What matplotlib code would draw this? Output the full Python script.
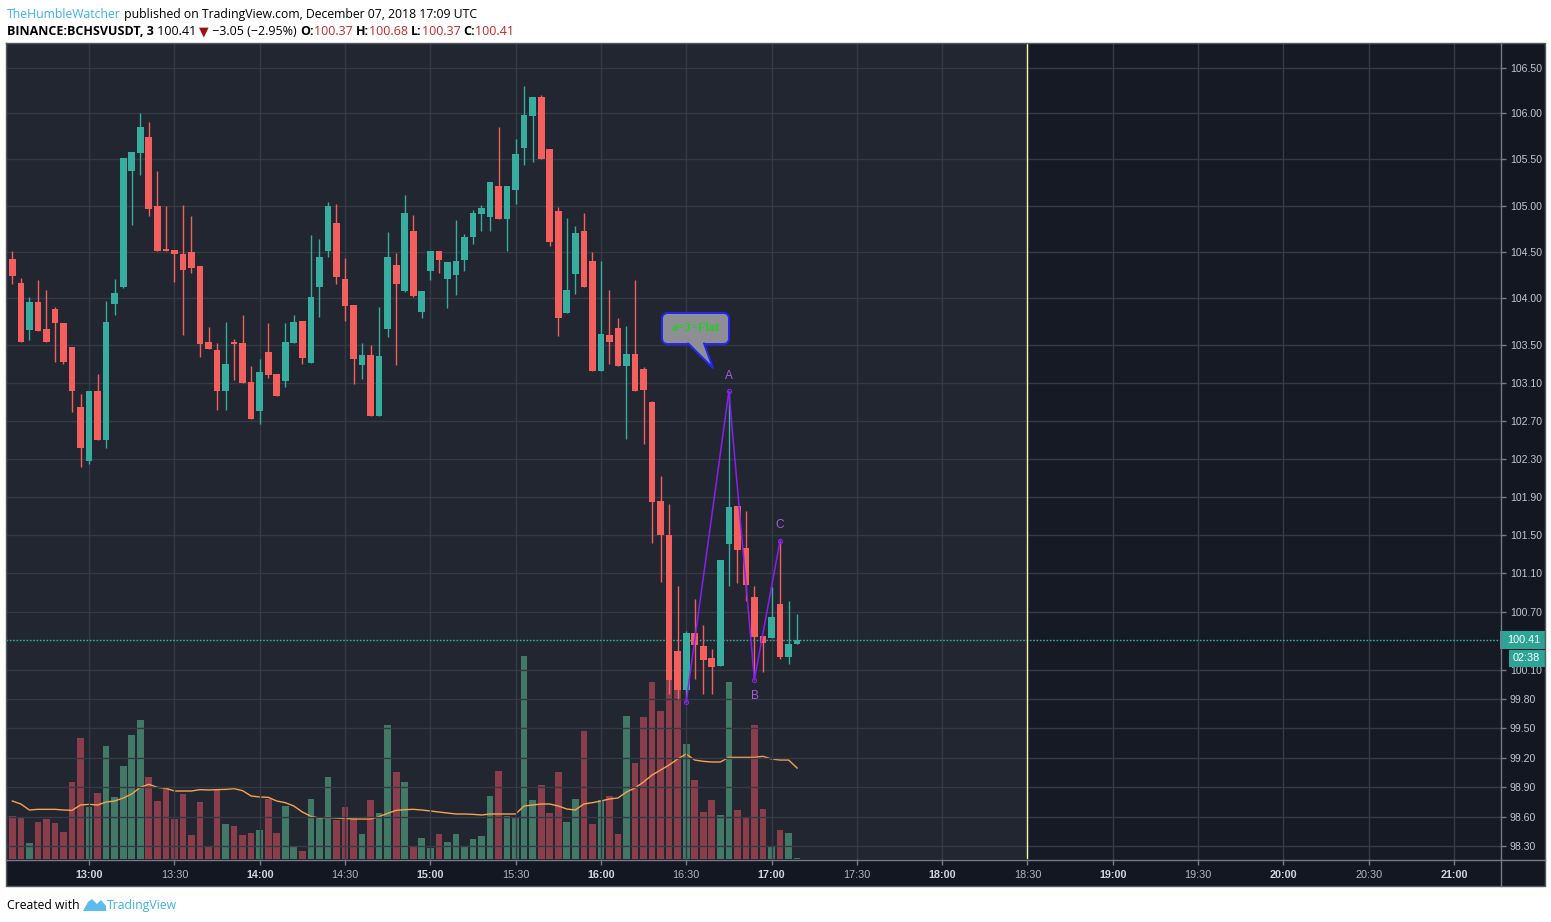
import matplotlib.pyplot as plt
import numpy as np
from matplotlib.patches import FancyBboxPatch, Polygon, Rectangle

W, H = 1551, 922

# BINANCE:BCHSVUSDT, 3 minute bars, first bar 12:33 UTC
start_min = 12 * 60 + 33
bar_min = 3

opens = [104.42, 104.17, 103.66, 103.96, 103.67, 103.89, 103.74, 103.48, 102.84, 102.27,
         103.01, 102.50, 103.94, 104.12, 105.375, 105.57, 105.74, 104.99, 104.53, 104.525,
         104.48, 104.50, 104.35, 103.54, 103.45, 103.01, 103.54, 103.52, 103.11, 102.80,
         103.43, 103.19, 103.12, 103.52, 103.76, 103.31, 104.12, 104.51, 104.81, 104.21,
         103.925, 103.29, 103.40, 102.75, 103.67, 104.36, 104.08, 104.73, 103.86, 104.29,
         104.51, 104.21, 104.25, 104.41, 104.66, 104.91, 104.88, 105.21, 104.85, 105.17,
         105.62, 105.97, 106.18, 105.61, 104.94, 103.84, 104.26, 104.73, 104.405, 103.23,
         103.61, 103.685, 103.275, 103.41, 103.25, 102.90, 101.85, 101.50, 100.29, 99.89,
         100.48, 100.35, 100.22, 100.14, 101.40, 101.80, 101.36, 100.85, 100.45, 100.43,
         100.78, 100.23, 100.37]
highs = [104.51, 104.22, 104.02, 104.20, 104.09, 103.91, 103.74, 103.48, 102.98, 103.01,
         103.19, 103.97, 104.21, 105.51, 105.575, 106.00, 105.91, 105.37, 104.99, 104.525,
         105.01, 104.89, 104.35, 103.69, 103.52, 103.75, 103.57, 103.82, 103.28, 103.35,
         103.74, 103.19, 103.74, 103.82, 103.76, 104.68, 104.64, 105.04, 105.02, 104.43,
         103.925, 103.52, 103.50, 103.91, 104.71, 104.49, 105.11, 104.90, 104.075, 104.51,
         104.51, 104.39, 104.84, 104.69, 104.95, 105.01, 105.25, 105.85, 105.21, 105.725,
         106.30, 106.18, 106.20, 105.61, 104.98, 104.87, 104.78, 104.92, 104.50, 104.405,
         104.09, 103.79, 103.71, 104.20, 103.27, 102.91, 102.12, 101.82, 100.97, 100.50,
         100.83, 100.56, 100.31, 101.24, 103.01, 101.80, 101.75, 100.97, 100.45, 100.96,
         101.44, 100.81, 100.68]
lows = [104.16, 103.54, 103.56, 103.65, 103.53, 103.32, 103.30, 102.79, 102.21, 102.24,
        102.50, 102.41, 103.82, 104.11, 104.79, 105.33, 104.89, 104.51, 104.51, 104.175,
        103.61, 104.27, 103.38, 103.46, 102.81, 102.81, 103.13, 103.10, 102.72, 102.66,
        103.15, 102.96, 103.06, 103.52, 103.30, 103.31, 103.80, 104.45, 104.15, 103.76,
        103.09, 103.14, 102.75, 102.75, 103.59, 103.29, 104.07, 104.02, 103.79, 104.20,
        104.27, 103.90, 104.04, 104.29, 104.58, 104.72, 104.72, 104.85, 104.51, 105.02,
        105.44, 105.47, 105.50, 104.56, 103.60, 103.84, 104.05, 104.125, 103.225, 103.23,
        103.30, 103.275, 102.51, 103.01, 102.45, 101.42, 101.01, 99.85, 99.80, 99.77,
        100.01, 99.85, 99.85, 100.14, 100.97, 101.00, 100.81, 100.00, 100.08, 100.43,
        100.21, 100.16, 100.37]
closes = [104.24, 103.54, 103.96, 103.65, 103.53, 103.74, 103.32, 103.01, 102.41, 103.01,
          102.50, 103.75, 104.06, 105.51, 105.575, 105.85, 104.96, 104.51, 104.51, 104.475,
          104.30, 104.33, 103.51, 103.46, 103.01, 103.30, 103.51, 103.10, 102.72, 103.22,
          103.18, 102.96, 103.53, 103.75, 103.37, 104.02, 104.44, 105.00, 104.23, 103.92,
          103.35, 103.40, 102.75, 103.39, 104.45, 104.16, 104.92, 104.03, 104.075, 104.51,
          104.41, 104.39, 104.40, 104.66, 104.92, 104.975, 105.25, 104.85, 105.21, 105.56,
          105.98, 106.18, 105.50, 104.605, 103.79, 104.09, 104.70, 104.125, 103.225, 103.62,
          103.53, 103.275, 103.41, 103.01, 103.03, 101.84, 101.50, 100.00, 99.89, 100.48,
          100.36, 100.20, 100.13, 101.24, 101.79, 101.34, 100.98, 100.44, 100.38, 100.65,
          100.23, 100.37, 100.41]
volumes = [129, 123, 48, 111, 120, 108, 81, 231, 363, 156,
           198, 339, 186, 279, 372, 417, 246, 174, 213, 120,
           195, 72, 171, 36, 210, 105, 99, 72, 78, 87,
           180, 78, 159, 39, 24, 180, 123, 246, 117, 156,
           123, 75, 177, 138, 402, 261, 231, 36, 63, 33,
           75, 51, 75, 39, 60, 69, 189, 264, 129, 126,
           609, 177, 222, 138, 261, 111, 180, 384, 105, 177,
           189, 75, 429, 288, 426, 531, 444, 564, 582, 345,
           237, 141, 177, 132, 531, 147, 123, 402, 150, 39,
           87, 78, 3]
vol_ma = [174, 165, 147, 149, 149, 149, 147, 146, 162, 164,
          162, 171, 174, 183, 195, 215, 224, 215, 212, 204,
          204, 204, 208, 207, 208, 209, 211, 205, 189, 186,
          185, 174, 169, 159, 141, 128, 123, 125, 123, 122,
          120, 120, 120, 127, 137, 146, 148, 149, 147, 144,
          141, 138, 135, 135, 134, 132, 135, 135, 135, 135,
          159, 162, 165, 165, 159, 150, 147, 165, 169, 174,
          180, 183, 201, 213, 231, 252, 267, 282, 300, 315,
          297, 293, 291, 291, 305, 305, 305, 305, 308, 300,
          297, 297, 273]

# A-B-C swing marked on the chart (bar index, which extreme)
swing_bars = [79, 84, 87, 90]
swing_names = ['', 'A', 'B', 'C']

price_ticks = [106.50, 106.00, 105.50, 105.00, 104.50, 104.00, 103.50, 103.10, 102.70, 102.30,
               101.90, 101.50, 101.10, 100.70, 100.10, 99.80, 99.50, 99.20, 98.90, 98.60, 98.30]
time_labels = ['13:00', '13:30', '14:00', '14:30', '15:00', '15:30', '16:00', '16:30', '17:00',
               '17:30', '18:00', '18:30', '19:00', '19:30', '20:00', '20:30', '21:00']
session_end = '18:30'
timer_text = '02:38'

GREEN = '#36ad9f'
RED = '#f25f5c'
GREEN_V = '#417866'
RED_V = '#8a3e4c'
BG = '#222630'
BG_DARK = '#161a25'
AXIS_BG = '#131722'
GRID = '#363a45'
TXT = '#b2b5be'


def to_idx(hhmm):
    h, m = hhmm.split(':')
    return (int(h) * 60 + int(m) - start_min) / bar_min


o = np.array(opens)
hi = np.array(highs)
lo = np.array(lows)
c = np.array(closes)
idx = np.arange(len(o))
up = c >= o

fig = plt.figure(figsize=(W / 100, H / 100), dpi=100, facecolor='white')

# background layer in pixel coordinates
bg = fig.add_axes([0, 0, 1, 1], zorder=-5)
bg.set_xlim(0, W)
bg.set_ylim(H, 0)
bg.axis('off')
bg.add_patch(Rectangle((6, 43), 1539, 843, facecolor=AXIS_BG, edgecolor='none'))

pos = [6 / W, 1 - 859 / H, 1494 / W, 815 / H]
xlim = (-0.74, 174.4)

# volume pane (drawn underneath)
av = fig.add_axes(pos, zorder=1)
av.set_facecolor(BG)
av.set_xlim(*xlim)
av.set_ylim(0, 2445)
av.axvspan(to_idx(session_end), xlim[1], color=BG_DARK, lw=0, zorder=0)
av.bar(idx, volumes, width=0.78, color=np.where(up, GREEN_V, RED_V), linewidth=0, zorder=2)
av.plot(idx, vol_ma, color='#f7a350', lw=1, zorder=3)
av.xaxis.set_visible(False)
av.yaxis.set_visible(False)
for s in av.spines.values():
    s.set_visible(False)

# price pane
ax = fig.add_axes(pos, zorder=2)
ax.patch.set_visible(False)
ax.set_yscale('log')
ax.set_ylim(98.17, 106.76)
ax.set_xlim(*xlim)
ax.set_axisbelow(True)
ax.grid(True, color=GRID, lw=1)
ax.minorticks_off()

cols = np.where(up, GREEN, RED)
ax.vlines(idx, lo, hi, colors=cols, lw=1, zorder=3)
body = np.maximum(np.abs(c - o), 0.012)
ax.bar(idx, body, bottom=np.minimum(o, c), width=0.78, color=cols, linewidth=0, zorder=4)

ax.axhline(c[-1], color='#2fb3a5', lw=1, linestyle=(0, (1.2, 1.2)), zorder=2)
ax.axvline(to_idx(session_end), color='#f4f4b0', lw=1, zorder=2)

# swing pattern
sx = swing_bars
sy = [lo[79], hi[84], lo[87], hi[90]]
ax.plot(sx, sy, color='#8a1ef0', lw=1.1, zorder=6)
ax.plot(sx, sy, 'o', ms=3, mfc='none', mec='#8a1ef0', mew=0.8, zorder=6)
for k, name in enumerate(swing_names):
    if not name:
        continue
    dy = -12 if name == 'B' else 11
    ax.annotate(name, (sx[k], sy[k]), xytext=(0, dy), textcoords='offset points',
                ha='center', va='center', color='#a45fe0', fontsize=8.5,
                family='Liberation Sans', zorder=7)

ax.yaxis.tick_right()
ax.set_yticks(price_ticks)
ax.set_yticklabels([f'{p:.2f}' for p in price_ticks])
ax.set_xticks([to_idx(t) for t in time_labels])
ax.set_xticklabels(time_labels)
ax.tick_params(axis='y', length=4, width=1, color='#787b86', pad=3, labelsize=7.6,
               labelcolor='#c3c6ce')
ax.tick_params(axis='x', length=4, width=1, color='#787b86', pad=4, labelsize=7.8,
               labelcolor=TXT)
for lab in ax.get_xticklabels() + ax.get_yticklabels():
    lab.set_family('Liberation Sans')
for lab in ax.get_xticklabels():
    if lab.get_text().endswith(':00'):
        lab.set_fontweight('bold')
        lab.set_color('#d1d4dc')
for s in ax.spines.values():
    s.set_visible(False)

# overlay in pixel coordinates
ov = fig.add_axes([0, 0, 1, 1], zorder=10)
ov.set_xlim(0, W)
ov.set_ylim(H, 0)
ov.axis('off')
ov.patch.set_visible(False)

ov.plot([6, 1545, 1545, 6, 6], [43.5, 43.5, 885.5, 885.5, 43.5], color='#55585f', lw=1)
ov.plot([6, 1545], [859.5, 859.5], color='#787b86', lw=1)
ov.plot([1500.5, 1500.5], [43.5, 885.5], color='#787b86', lw=1)

# last price and countdown labels
py = H - ax.transData.transform((0, c[-1]))[1]
ov.add_patch(Rectangle((1500, py - 9), 45, 18, facecolor='#2ca597', edgecolor='none'))
ov.text(1540, py, f'{c[-1]:.2f}', ha='right', va='center', color='white', fontsize=7.8,
        family='Liberation Sans')
ov.add_patch(Rectangle((1509, py + 10), 36, 17, facecolor='#2ca597', edgecolor='none'))
ov.text(1540, py + 18.5, timer_text, ha='right', va='center', color='white', fontsize=7.8,
        family='Liberation Sans')

# callout bubble
ov.add_patch(FancyBboxPatch((662, 313), 67, 31, boxstyle='round,pad=0,rounding_size=6',
                            facecolor='#8e8f95', edgecolor='#2424ff', lw=1.4, zorder=3))
ov.add_patch(Polygon([(688, 342), (713, 368), (704, 342)], closed=True,
                     facecolor='#8e8f95', edgecolor='none', zorder=4))
ov.plot([688, 713, 704], [343.5, 368, 343.5], color='#2424ff', lw=1.4, zorder=5)
ov.text(695.5, 328, 'a=3=Flat', ha='center', va='center', color='#1fd11f', fontsize=9,
        fontweight='bold', family='Liberation Serif', zorder=6)

# header
hfam = ['Open Sans', 'DejaVu Sans']
HS = 8.8
HS2 = 9.0


def chain(prev, s, color='black', weight='normal', size=HS):
    return ov.annotate(s, xy=(1, 0), xycoords=prev, va='bottom', ha='left', color=color,
                       fontsize=size, fontweight=weight, family=hfam)


t = ov.text(7, 18, 'TheHumbleWatcher', color='#3bb3e4', fontsize=HS, family=hfam,
            va='baseline')
chain(t, ' published on TradingView.com, December 07, 2018 17:09 UTC')

RED_T = '#c0282d'
t = ov.text(7, 35, 'BINANCE:BCHSVUSDT, 3', color='black', fontsize=HS2, fontweight='bold',
            family=hfam, va='baseline')
t = chain(t, ' 100.41 ', size=HS2)
t = chain(t, '\u25bc', color='#a01010', size=HS2)
t = chain(t, ' \u22123.05 (\u22122.95%) ', size=HS2)
for lab, val in [('O:', opens[-1]), ('H:', highs[-1]), ('L:', lows[-1]), ('C:', closes[-1])]:
    t = chain(t, lab, weight='bold', size=HS2)
    t = chain(t, f'{val:.2f} ', color=RED_T, size=HS2)

# footer
t = ov.text(7, 909, 'Created with', color='black', fontsize=HS, family=hfam, va='baseline')
ov.add_patch(Polygon([(83, 911), (88, 902), (92, 899), (97, 904), (101, 900), (106, 906),
                      (106, 911)], closed=True, facecolor='#5cbcec', edgecolor='none'))
ov.text(107, 909, 'TradingView', color='#3bb3e4', fontsize=HS, family=hfam, va='baseline')

fig.savefig('out.png', dpi=100, facecolor='white')
